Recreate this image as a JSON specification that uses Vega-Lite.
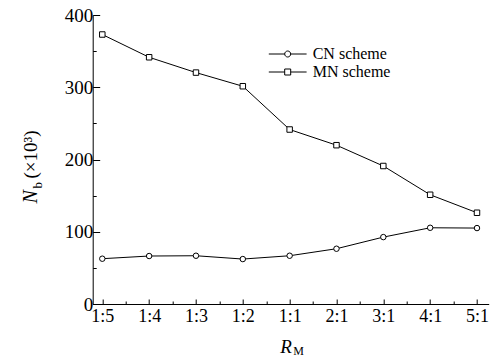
{
  "$schema": "https://vega.github.io/schema/vega-lite/v6.json",
  "autosize": {"type": "none"},
  "padding": {"left": 92.7, "top": 15, "right": 1.3, "bottom": 56},
  "width": 396,
  "height": 289,
  "background": "white",
  "data": {
    "values": [
      {"ratio": "1:5", "i": 0, "scheme": "CN scheme", "value": 62.7},
      {"ratio": "1:4", "i": 1, "scheme": "CN scheme", "value": 66.4},
      {"ratio": "1:3", "i": 2, "scheme": "CN scheme", "value": 66.8},
      {"ratio": "1:2", "i": 3, "scheme": "CN scheme", "value": 62.2},
      {"ratio": "1:1", "i": 4, "scheme": "CN scheme", "value": 66.8},
      {"ratio": "2:1", "i": 5, "scheme": "CN scheme", "value": 76.5},
      {"ratio": "3:1", "i": 6, "scheme": "CN scheme", "value": 92.6},
      {"ratio": "4:1", "i": 7, "scheme": "CN scheme", "value": 105.5},
      {"ratio": "5:1", "i": 8, "scheme": "CN scheme", "value": 105.1},
      {"ratio": "1:5", "i": 0, "scheme": "MN scheme", "value": 373},
      {"ratio": "1:4", "i": 1, "scheme": "MN scheme", "value": 341.5},
      {"ratio": "1:3", "i": 2, "scheme": "MN scheme", "value": 320.3},
      {"ratio": "1:2", "i": 3, "scheme": "MN scheme", "value": 301.4},
      {"ratio": "1:1", "i": 4, "scheme": "MN scheme", "value": 241.5},
      {"ratio": "2:1", "i": 5, "scheme": "MN scheme", "value": 219.8},
      {"ratio": "3:1", "i": 6, "scheme": "MN scheme", "value": 191},
      {"ratio": "4:1", "i": 7, "scheme": "MN scheme", "value": 151.2},
      {"ratio": "5:1", "i": 8, "scheme": "MN scheme", "value": 126.3}
    ]
  },
  "config": {
    "view": {"stroke": null},
    "legend": {"padding": 0, "labelFont": "Liberation Serif", "labelFontSize": 16, "labelColor": "black"},
    "axis": {
      "grid": false,
      "domainColor": "black",
      "domainWidth": 1,
      "tickColor": "black",
      "tickWidth": 1,
      "labelFont": "Liberation Serif",
      "labelFontSize": 18,
      "labelColor": "black",
      "titleColor": "black",
      "titleFont": "Liberation Serif",
      "titleFontWeight": "normal",
      "titleAnchor": null
    }
  },
  "resolve": {"axis": {"x": "independent", "y": "independent"}, "scale": {"shape": "independent"}},
  "layer": [
    {
      "mark": {"type": "line", "color": "black", "strokeWidth": 1},
      "encoding": {
        "x": {
          "field": "i", "type": "quantitative",
          "scale": {"domain": [-0.205, 8.25], "nice": false, "zero": false},
          "axis": {
            "orient": "bottom",
            "values": [0, 1, 2, 3, 4, 5, 6, 7, 8],
            "labelExpr": "['1:5','1:4','1:3','1:2','1:1','2:1','3:1','4:1','5:1'][datum.value]",
            "tickSize": -5,
            "labelPadding": 8,
            "labelFlush": false,
            "labelOverlap": false,
            "title": "R",
            "titleFontStyle": "italic",
            "titleFontSize": 19,
            "titleX": 187,
            "titleY": 48,
            "titleAlign": "left",
            "titleBaseline": "alphabetic",
            "titleAngle": 0
          }
        },
        "y": {
          "field": "value", "type": "quantitative",
          "scale": {"domain": [0, 400], "nice": false},
          "axis": {
            "orient": "left",
            "values": [0, 100, 200, 300, 400],
            "tickSize": -7,
            "labelPadding": 7,
            "labelFontSize": 19,
            "labelFlush": false,
            "title": "N",
            "titleFontStyle": "italic",
            "titleFontSize": 20,
            "titleX": -55.7,
            "titleY": 188,
            "titleAlign": "left",
            "titleBaseline": "alphabetic",
            "titleAngle": -90
          }
        },
        "detail": {"field": "scheme", "type": "nominal"}
      }
    },
    {
      "mark": {"type": "point", "filled": false, "stroke": "black", "fill": "white", "fillOpacity": 1, "strokeWidth": 1, "size": 30},
      "encoding": {
        "x": {
          "field": "i", "type": "quantitative",
          "axis": {
            "orient": "bottom",
            "values": [0.5, 1.5, 2.5, 3.5, 4.5, 5.5, 6.5, 7.5],
            "labels": false,
            "domain": false,
            "tickSize": -3,
            "title": "M",
            "titleFontSize": 12,
            "titleX": 200,
            "titleY": 50,
            "titleAlign": "left",
            "titleBaseline": "alphabetic",
            "titleAngle": 0
          }
        },
        "y": {
          "field": "value", "type": "quantitative",
          "axis": {
            "orient": "left",
            "values": [50, 150, 250, 350],
            "labels": false,
            "domain": false,
            "tickSize": -3.5,
            "title": "b",
            "titleFontSize": 13,
            "titleX": -51.5,
            "titleY": 173,
            "titleAlign": "left",
            "titleBaseline": "alphabetic",
            "titleAngle": -90
          }
        },
        "shape": {
          "field": "scheme", "type": "nominal",
          "scale": {"range": ["circle", "square"]},
          "legend": null
        }
      }
    },
    {
      "mark": {"type": "point", "opacity": 0},
      "encoding": {
        "x": {"field": "i", "type": "quantitative", "axis": null},
        "y": {
          "field": "value", "type": "quantitative",
          "axis": {
            "orient": "left",
            "labels": false,
            "ticks": false,
            "domain": false,
            "title": "(×10³)",
            "titleFontSize": 19,
            "titleX": -55.7,
            "titleY": 163,
            "titleAlign": "left",
            "titleBaseline": "alphabetic",
            "titleAngle": -90
          }
        }
      }
    },
    {
      "transform": [{"filter": "false"}],
      "mark": {"type": "point", "filled": false, "stroke": "black", "strokeWidth": 1},
      "encoding": {
        "x": {"field": "i", "type": "quantitative", "axis": null},
        "y": {"field": "value", "type": "quantitative", "axis": null},
        "shape": {
          "field": "scheme", "type": "nominal",
          "scale": {
            "domain": ["CN scheme", "MN scheme"],
            "range": [
              "M-6.3,0H-1M1,0H6.3M1,0A1,1,0,1,1,-1,0A1,1,0,1,1,1,0Z",
              "M-6.3,0H-1M1,0H6.3M-1,-1H1V1H-1Z"
            ]
          },
          "legend": {
            "title": null,
            "orient": "none",
            "legendX": 187,
            "legendY": 31,
            "padding": 0,
            "labelFont": "Liberation Serif",
            "labelFontSize": 16,
            "labelColor": "black",
            "symbolSize": 36,
            "symbolStrokeColor": "black",
            "symbolStrokeWidth": 1,
            "symbolOpacity": 1,
            "labelOffset": 17,
            "rowPadding": 2
          }
        }
      }
    }
  ]
}
